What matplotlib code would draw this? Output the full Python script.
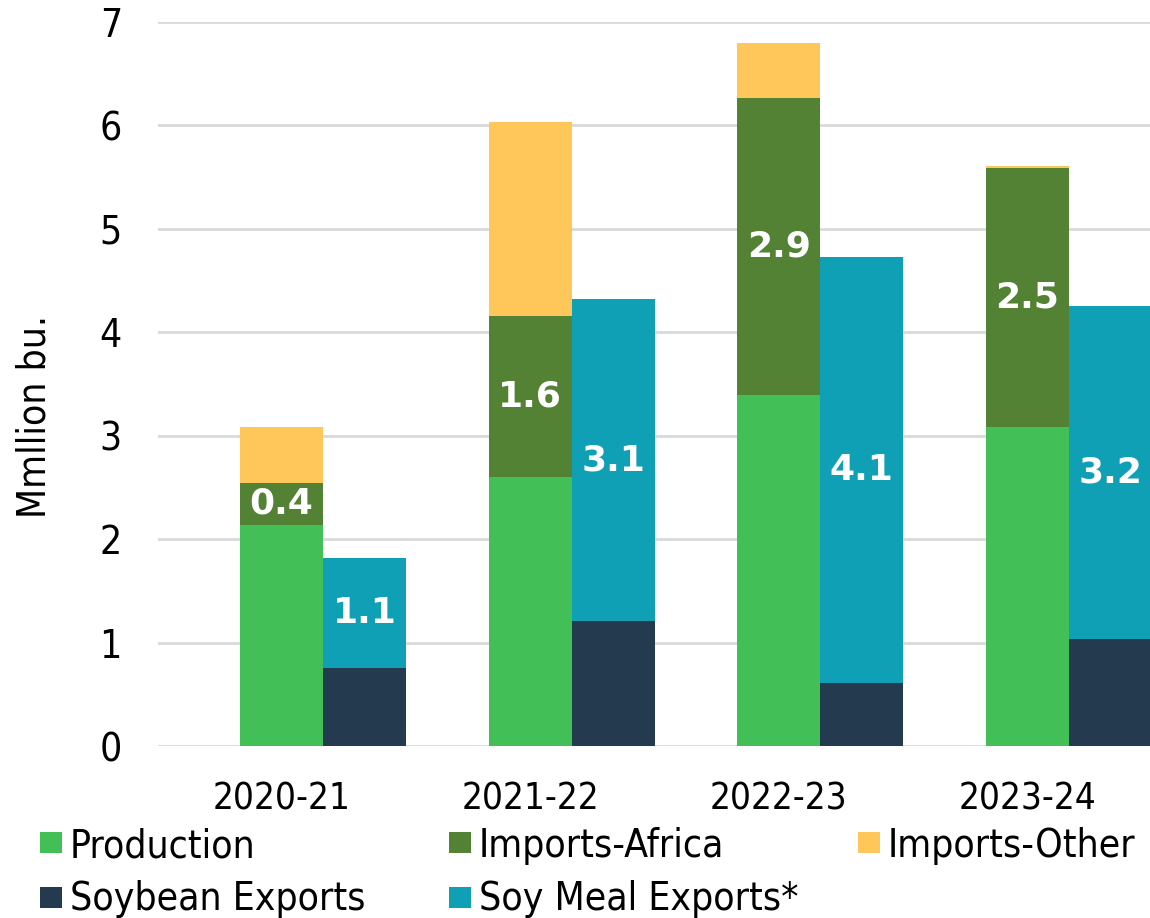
import matplotlib
matplotlib.use("Agg")
import matplotlib.pyplot as plt
from matplotlib import font_manager
from matplotlib.font_manager import FontProperties
from matplotlib.patches import Rectangle
import numpy as np

def find_font(fname_part, fallback_family, weight="normal"):
    for f in font_manager.fontManager.ttflist:
        if f.fname.split("/")[-1] == fname_part:
            return lambda size: FontProperties(fname=f.fname, size=size)
    return lambda size: FontProperties(family=fallback_family, weight=weight, size=size)

reg_font = find_font("DejaVuSansCondensed.ttf", "Liberation Sans")
bold_font = find_font("DejaVuSans-Bold.ttf", "DejaVu Sans", "bold")

years = ["2020-21", "2021-22", "2022-23", "2023-24"]
production = [2.14, 2.60, 3.39, 3.08]
imports_africa = [0.40, 1.56, 2.88, 2.51]
imports_other = [0.54, 1.87, 0.53, 0.02]
soybean_exports = [0.75, 1.21, 0.61, 1.03]
soymeal_exports = [1.07, 3.11, 4.12, 3.22]
africa_labels = ["0.4", "1.6", "2.9", "2.5"]
meal_labels = ["1.1", "3.1", "4.1", "3.2"]
series_names = ["Production", "Imports-Africa", "Imports-Other", "Soybean Exports", "Soy Meal Exports*"]

c_prod = "#43BF58"
c_afr = "#548235"
c_oth = "#FFC65A"
c_soy = "#243A4F"
c_meal = "#10A0B6"
colors = [c_prod, c_afr, c_oth, c_soy, c_meal]

W, H = 1150, 918
fig = plt.figure(figsize=(W/100, H/100), dpi=100)
ax = fig.add_axes([158/W, (H-746)/H, 1 - 158/W, (746-22)/H])

x = np.arange(len(years))
w = 0.334
prod = np.array(production); afr = np.array(imports_africa); oth = np.array(imports_other)
soy = np.array(soybean_exports); meal = np.array(soymeal_exports)

ax.bar(x - w/2, prod, w, color=c_prod, zorder=3)
ax.bar(x - w/2, afr, w, bottom=prod, color=c_afr, zorder=3)
ax.bar(x - w/2, oth, w, bottom=prod + afr, color=c_oth, zorder=3)
ax.bar(x + w/2, soy, w, color=c_soy, zorder=3)
ax.bar(x + w/2, meal, w, bottom=soy, color=c_meal, zorder=3)

for i in range(len(years)):
    ax.text(x[i] - w/2, prod[i] + afr[i]/2, africa_labels[i], ha="center", va="center",
            color="white", fontproperties=bold_font(26), zorder=4)
    ax.text(x[i] + w/2, soy[i] + meal[i]/2, meal_labels[i], ha="center", va="center",
            color="white", fontproperties=bold_font(26), zorder=4)

ax.set_xlim(-0.663, 3.326)
ax.set_ylim(0, 7)
ax.set_yticks(range(0, 8))
ax.set_xticks(x - w/2)
ax.set_xticklabels(years)
ax.yaxis.grid(True, color="#D9D9D9", linewidth=2, zorder=0)
ax.set_axisbelow(True)
for s in ax.spines.values():
    s.set_visible(False)
ax.tick_params(length=0)
ax.tick_params(axis="x", pad=25)
ax.tick_params(axis="y", pad=26)
for lab in ax.get_yticklabels():
    lab.set_fontproperties(reg_font(28))
for lab in ax.get_xticklabels():
    lab.set_fontproperties(reg_font(26.5))

fig.text(35/W, 1 - 417/H, "Mmllion bu.", rotation=90, ha="center", va="center",
         fontproperties=reg_font(28))

# legend
col_sq = [40, 449, 858]
row_sq = [832, 887]
row_base = [857, 910]
for k, (name, col) in enumerate(zip(series_names, colors)):
    r, c = divmod(k, 3)
    sx, sy = col_sq[c], row_sq[r]
    fig.add_artist(Rectangle((sx/W, 1 - (sy + 21)/H), 22/W, 21/H,
                             transform=fig.transFigure, facecolor=col, edgecolor="none"))
    fig.text((sx + 30)/W, 1 - row_base[r]/H, name, ha="left", va="baseline",
             fontproperties=reg_font(28))

fig.savefig("out.png", dpi=100)
